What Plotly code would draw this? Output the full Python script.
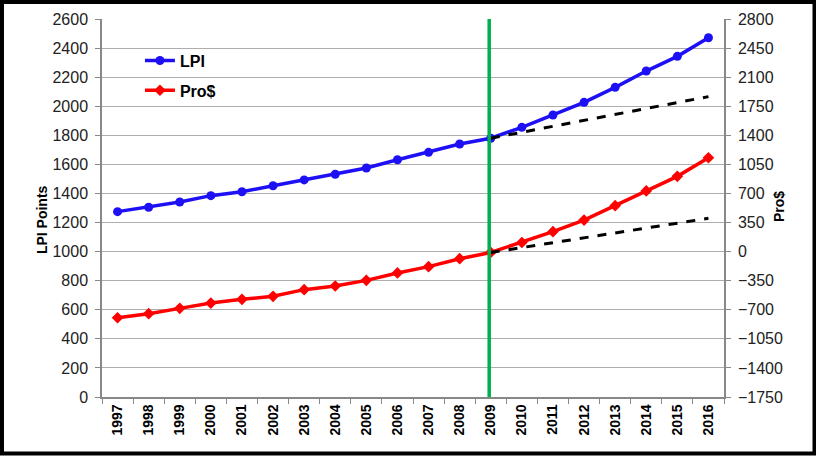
import plotly.graph_objects as go

years = [str(y) for y in range(1997, 2017)]
lpi = [1275, 1305, 1341, 1385, 1412, 1453, 1493, 1532, 1575, 1632, 1683, 1740, 1780,
       1855, 1940, 2027, 2130, 2242, 2343, 2471]
pro = [-796, -747, -683, -619, -574, -538, -458, -414, -346, -257, -181, -85, -10,
       110, 240, 380, 553, 730, 906, 1130]
trend_years = ["2009", "2016"]
lpi_trend = [1780, 2066]
pro_trend = [-10, 401]
break_year = "2009"

fig = go.Figure()
fig.add_trace(go.Scatter(x=years, y=lpi, name="LPI", mode="lines+markers", legendgroup="a",
                         line=dict(color="#1E10F5", width=3.5),
                         marker=dict(symbol="circle", size=9, color="#1E10F5")))
fig.add_trace(go.Scatter(x=years, y=pro, name="Pro$", mode="lines+markers", yaxis="y2",
                         legendgroup="b",
                         line=dict(color="#FF0000", width=3.5),
                         marker=dict(symbol="diamond", size=9, color="#FF0000")))
fig.add_trace(go.Scatter(x=trend_years, y=lpi_trend, mode="lines", showlegend=False,
                         line=dict(color="black", width=3, dash="dash")))
fig.add_trace(go.Scatter(x=trend_years, y=pro_trend, mode="lines", showlegend=False, yaxis="y2",
                         line=dict(color="black", width=3, dash="dash")))

bi = years.index(break_year)
fig.add_shape(type="line", xref="x", yref="paper", x0=bi - 0.05, x1=bi - 0.05, y0=0, y1=1,
              line=dict(color="#00B050", width=3.5))

# outer frame
fig.add_shape(type="rect", xref="paper", yref="paper",
              x0=-0.1608, x1=1.1455, y0=-0.1495, y1=1.0450,
              line=dict(color="black", width=4), layer="above")

fig.add_annotation(text="<b>LPI Points</b>", xref="paper", yref="paper", x=-0.1125, y=0.468,
                   textangle=-90, showarrow=False, font=dict(family="Arial", size=14, color="black"))
fig.add_annotation(text="<b>Pro$</b>", xref="paper", yref="paper", x=1.1045, y=0.505,
                   textangle=-90, showarrow=False, font=dict(family="Arial", size=14, color="black"))

fig.update_layout(
    width=816, height=456,
    margin=dict(l=102, r=92, t=19, b=59, autoexpand=False),
    paper_bgcolor="white", plot_bgcolor="white",
    font=dict(family="Arial", color="#222"),
    showlegend=True,
    legend=dict(x=0.061, y=0.935, xanchor="left", yanchor="top",
                font=dict(family="Arial", size=16, color="black", weight="bold"),
                bgcolor="rgba(0,0,0,0)", tracegroupgap=6),
    xaxis=dict(type="category", range=[-0.5, len(years) - 0.5], tickson="boundaries",
               ticks="outside", ticklen=5,
               tickcolor="#888", showline=True, linecolor="#888", linewidth=1.5,
               showgrid=False, tickangle=-90,
               tickfont=dict(family="Arial", size=14, color="black", weight="bold")),
    yaxis=dict(range=[0, 2600], dtick=200, tick0=0, showgrid=True, gridcolor="#ADADAD",
               gridwidth=1.3, showline=True, linecolor="#888", linewidth=1.5,
               ticks="outside", ticklen=5, tickcolor="#888", ticklabelstandoff=4,
               tickfont=dict(family="Arial", size=16, color="#222"), zeroline=False),
    yaxis2=dict(range=[-1750, 2800], dtick=350, tick0=0, overlaying="y", side="right",
                showgrid=False, showline=True, linecolor="#888", linewidth=1.5,
                ticks="outside", ticklen=5, tickcolor="#888", ticklabelstandoff=4,
                tickfont=dict(family="Arial", size=16, color="#222"), zeroline=False),
)

fig.write_html("out.html", config={"displayModeBar": False},
               post_script="document.body.style.margin='0';")
